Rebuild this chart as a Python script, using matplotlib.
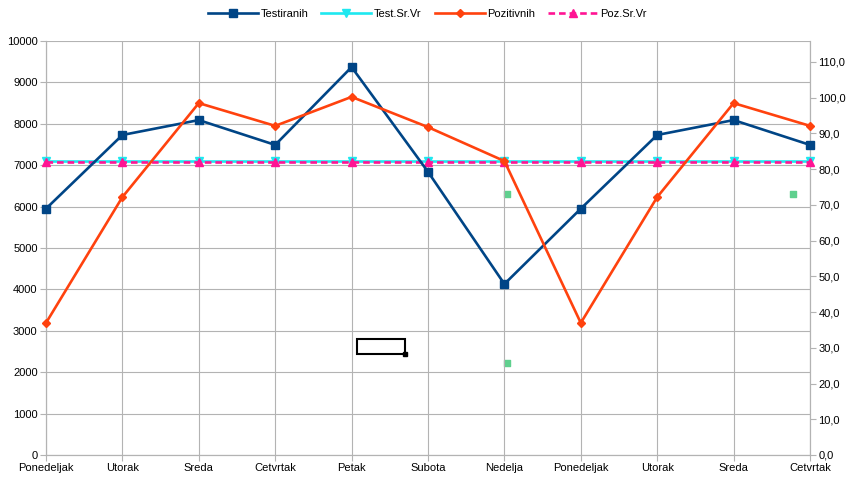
import matplotlib.pyplot as plt
from matplotlib.patches import Rectangle
from matplotlib.ticker import FuncFormatter

plt.rcParams["font.family"] = ["Liberation Sans", "DejaVu Sans"]

days = ["Ponedeljak", "Utorak", "Sreda", "Cetvrtak", "Petak", "Subota", "Nedelja",
        "Ponedeljak", "Utorak", "Sreda", "Cetvrtak"]
testiranih = [5950, 7730, 8090, 7490, 9370, 6840, 4130, 5950, 7730, 8090, 7490]
pozitivnih = [3190, 6230, 8500, 7950, 8650, 7920, 7100, 3190, 6230, 8500, 7950]
test_sr_vr = [7090] * len(days)
poz_sr_vr = [7080] * len(days)

# stray points on the secondary axis
extra_x = [6.04, 6.04, 9.78]
extra_y = [73.0, 25.7, 73.0]

# selection box left over in the sheet (x0, y0, width, height in data units)
box = (4.07, 2440, 0.63, 360)

x = list(range(len(days)))

fig = plt.figure(figsize=(8.55, 4.84), dpi=100)
ax = fig.add_axes([46 / 855, 1 - 455 / 484, (810 - 46) / 855, (455 - 41) / 484])
ax2 = ax.twinx()

grid_c = "#b3b3b3"
ax.set_xlim(0, len(days) - 1)
ax.set_ylim(0, 10000)
ax.set_yticks(range(0, 10001, 1000))
ax.set_xticks(x)
ax.set_xticklabels(days)
ax.grid(True, color=grid_c, linewidth=0.8)
ax.set_axisbelow(True)

ax2.set_ylim(0, 10000 * 110 / 9493)
ax2.set_yticks(range(0, 111, 10))
ax2.yaxis.set_major_formatter(FuncFormatter(lambda v, p: f"{v:.1f}".replace(".", ",")))

for a in (ax, ax2):
    for s in a.spines.values():
        s.set_color(grid_c)
    a.spines["top"].set_visible(False)
    a.tick_params(colors=grid_c, labelcolor="black", labelsize=8, length=4, width=0.8, pad=2)

l1, = ax.plot(x, testiranih, color="#004586", lw=1.9, marker="s", ms=6, label="Testiranih",
              clip_on=False, zorder=5)
l2, = ax.plot(x, test_sr_vr, color="#1ee8f0", lw=1.9, marker="v", ms=5.5, label="Test.Sr.Vr",
              clip_on=False, zorder=4)
l3, = ax.plot(x, pozitivnih, color="#ff420e", lw=1.9, marker="D", ms=4.5, label="Pozitivnih",
              clip_on=False, zorder=5)
l4, = ax.plot(x, poz_sr_vr, color="#ff1493", lw=1.9, ls=(0, (2.5, 1.5)), marker="^", ms=5.5,
              label="Poz.Sr.Vr", clip_on=False, zorder=4)

ax2.scatter(extra_x, extra_y, marker="s", s=20, color="#5fd08e", zorder=3)

ax.add_patch(Rectangle((box[0], box[1]), box[2], box[3], fill=False, edgecolor="black",
                       lw=1.5, zorder=6))
ax.plot([box[0] + box[2]], [box[1]], marker="s", ms=3.5, color="black", zorder=6)

ax.set_zorder(ax2.get_zorder() + 1)
ax.patch.set_visible(False)

fig.legend(handles=[l1, l2, l3, l4], loc="center", bbox_to_anchor=(0.5, 1 - 14 / 484),
           ncol=4, frameon=False, fontsize=8, handlelength=4.5, handletextpad=0.2,
           columnspacing=1.2)

fig.savefig("out.png", dpi=100)
